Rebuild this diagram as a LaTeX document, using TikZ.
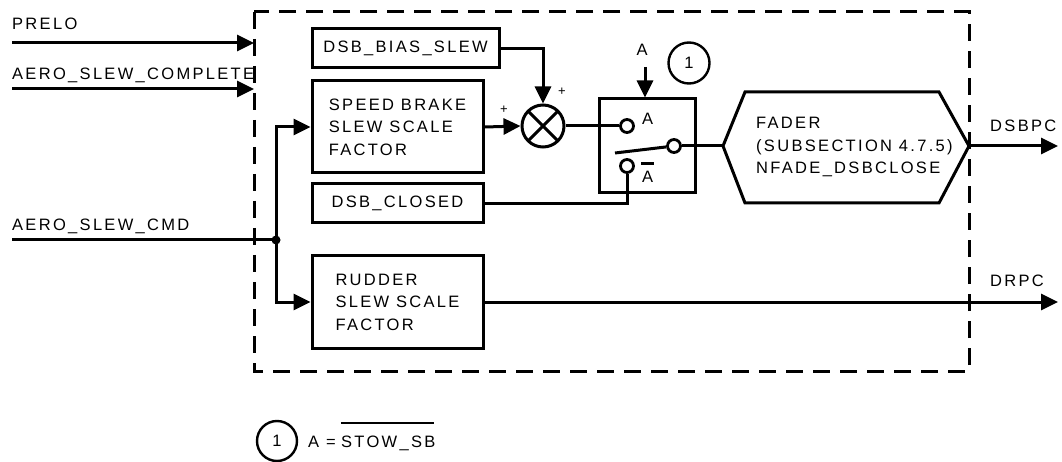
\documentclass[tikz,border=0pt]{standalone}
\usepackage{fontspec}
\setmainfont{Liberation Sans}[LetterSpace=14]
\usetikzlibrary{arrows.meta,positioning,calc}
\newcommand{\diagfont}{\fontsize{16.5}{22.5}\selectfont}
\newcommand{\signfont}{\fontsize{13}{14}\selectfont}
\tikzset{
  blockbox/.style={
    draw,
    line width=3pt,
    minimum width=171pt,
    inner sep=0pt,
    align=left,
    font=\diagfont
  },
  sumnode/.style={
    circle,
    draw,
    line width=3pt,
    minimum size=42pt,
    inner sep=0pt,
    path picture={
      \draw[line width=3pt] (path picture bounding box.north west) -- (path picture bounding box.south east);
      \draw[line width=3pt] (path picture bounding box.south west) -- (path picture bounding box.north east);
    }
  },
  contact/.style={
    circle,
    draw,
    fill=white,
    line width=2.8pt,
    minimum size=13pt,
    inner sep=0pt
  },
  tagcircle/.style={
    circle,
    draw,
    line width=2.4pt,
    minimum size=41pt,
    inner sep=0pt,
    font=\diagfont
  },
  sigtext/.style={
    inner sep=0pt,
    anchor=base west,
    font=\diagfont
  },
  wire/.style={
    line width=3pt
  },
  arrow/.style={
    -{Triangle[length=17pt,width=16pt]},
    line width=3pt
  },
  enclosure/.style={
    line width=3pt,
    dash pattern=on 17pt off 10pt
  }
}

\begin{document}
\begin{tikzpicture}[x=1pt,y=-1pt]
\useasboundingbox (0,0) rectangle (1062,462);
% dashed boundary
\draw[enclosure] (254,12) rectangle (969,371);

% inputs
\node[sigtext] (prelo) at (12,30) {PRELO};
\node[sigtext] (complete) at (12,80) {AERO\_SLEW\_COMPLETE};
\node[sigtext] (cmd) at (12,231) {AERO\_SLEW\_CMD};
\coordinate (preloin) at (12,43);
\coordinate (preloend) at (254,43);
\coordinate (completein) at (12,89);
\coordinate (completeend) at (254,89);
\coordinate (cmdin) at (12,240);
\node[circle, fill, minimum size=9pt, inner sep=0pt] (junc) at (276,240) {};

% blocks
\node[blockbox, minimum width=187pt, minimum height=39pt] (biasslew) at (405.5,48.5) {DSB\_BIAS\_SLEW};
\node[blockbox, minimum height=92pt] (sbscale) at (397.5,127) {SPEED BRAKE\\SLEW SCALE\\FACTOR};
\node[blockbox, minimum height=39pt] (dsbclosed) at (397.5,203.5) {DSB\_CLOSED};
\node[blockbox, minimum height=93pt] (rudder) at (397.5,302) {RUDDER\\SLEW SCALE\\FACTOR};
\node[sumnode] (sum) at (543,126) {};
\node[font=\signfont, inner sep=0pt] (plustop) at (562,92) {+};
\node[font=\signfont, inner sep=0pt] (plusleft) at (504,110) {+};

% switch
\node[draw, line width=3pt, minimum width=96pt, minimum height=94pt, inner sep=0pt] (switch) at (647,146) {};
\node[contact] (ca) at (627,126) {};
\node[contact] (cb) at (627,166) {};
\node[contact] (cout) at (674,146) {};
\coordinate (armend) at (615,153);
\node[sigtext] (lbla) at (642,125) {A};
\node[sigtext] (lblabar) at (642,183) {A};
\draw[line width=2.4pt] ([shift={(-1pt,8pt)}]lblabar.north west) -- ([shift={(12pt,8pt)}]lblabar.north west);
\node[sigtext, anchor=base] (selA) at (642,56) {A};
\coordinate (Atop) at (645,67);
\node[tagcircle] (tag) at (689,63) {1};

% fader
\draw[wire] (723,146) coordinate (fadL) -- (745,92) -- (939,92) -- (969,146) coordinate (fadR)
  -- (939,203) -- (745,203) -- cycle;
\node[inner sep=0pt, anchor=west, align=left, font=\diagfont] (fader) at (756,147) {FADER\\(SUBSECTION 4.7.5)\\NFADE\_DSBCLOSE};

% outputs
\node[sigtext] (dsbpc) at (990,132) {DSBPC};
\node[sigtext] (drpc) at (990,287) {DRPC};
\coordinate (dsbpcend) at (1058,146);
\coordinate (drpcend) at (1058,302);

% connectors
\draw[arrow] (preloin) -- (preloend);
\draw[arrow] (completein) -- (completeend);
\draw[wire] (cmdin) -- (junc.center);
\draw[arrow] (junc.center) |- (sbscale.west);
\draw[arrow] (junc.center) |- (rudder.west);
\draw[arrow] (biasslew.east) -| (sum.north);
\draw[arrow] (sbscale.east) -- (sum.west);
\draw[wire] (sum.east) -- (ca.west);
\draw[wire] (cb.south) |- (dsbclosed.east);
\draw[arrow] (Atop) -- (Atop |- switch.north);
\draw[wire] (armend) -- (cout);
\draw[wire] (cout.east) -- (fadL);
\draw[arrow] (fadR) -- (dsbpcend);
\draw[arrow] (rudder.east) -- (drpcend);

% note
\node[tagcircle, minimum size=40pt] (note) at (277,441) {1};
\node[sigtext] (noteeq) at (308,447) {A =};
\node[sigtext, right=5pt of noteeq.base east, anchor=base west] (notestow) {STOW\_SB};
\draw[line width=2.4pt] ([yshift=12pt]notestow.north west) -- ([shift={(-2pt,12pt)}]notestow.north east);
\end{tikzpicture}
\end{document}
